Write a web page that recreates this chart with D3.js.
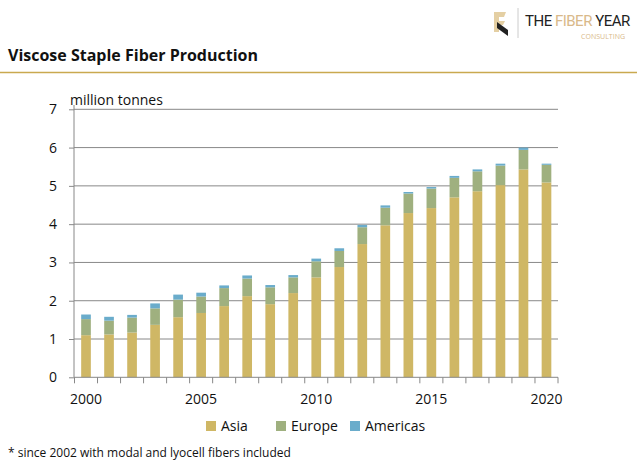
<!DOCTYPE html><html><head><meta charset="utf-8"><script src="https://d3js.org/d3.v7.min.js"></script>
<style>body{margin:0;background:#fff}svg{font-family:"Open Sans",Lato,sans-serif}</style></head><body><script>
const years=d3.range(2000,2021);
const asia=[1.10,1.12,1.17,1.37,1.57,1.68,1.86,2.12,1.91,2.20,2.61,2.88,3.48,3.97,4.29,4.42,4.70,4.86,5.02,5.43,5.09];
const europe=[0.42,0.36,0.39,0.43,0.46,0.43,0.47,0.46,0.44,0.41,0.42,0.42,0.44,0.46,0.51,0.51,0.51,0.52,0.51,0.51,0.46];
const americas=[0.12,0.10,0.07,0.13,0.13,0.10,0.07,0.08,0.06,0.06,0.07,0.07,0.06,0.06,0.04,0.04,0.05,0.05,0.05,0.06,0.03];
const series=[["Asia",asia,"#cfb765"],["Europe",europe,"#9fb07f"],["Americas",americas,"#6aaccb"]];
const yTicks=[0,1,2,3,4,5,6,7];
const svg=d3.select("body").append("svg").attr("width",637).attr("height",475);
svg.append("text").attr("x",8).attr("y",61).attr("font-weight","bold").attr("font-size",16).attr("fill","#111").text("Viscose Staple Fiber Production");
svg.append("line").attr("x1",0).attr("x2",637).attr("y1",72.5).attr("y2",72.5).attr("stroke","#c9a94f").attr("stroke-width",1.5);
svg.append("path").attr("d","M494,12 L506,12 L504,17 L499,17 L499,21 L505,21 L503,25 L499,25 L499,32 L494,32Z").attr("fill","#e4cfa3");
svg.append("path").attr("d","M497,22 L508,30 L508,36 L497,28Z").attr("fill","#222");
svg.append("line").attr("x1",518).attr("x2",518).attr("y1",8).attr("y2",38).attr("stroke","#ccc");
const lg=svg.append("text").attr("x",525).attr("y",26).attr("font-size",15).attr("font-family","Liberation Sans Narrow, Roboto, sans-serif").attr("letter-spacing",-0.5);
lg.append("tspan").attr("fill","#222").text("THE ");lg.append("tspan").attr("fill","#d9b98a").text("FIBER ");lg.append("tspan").attr("fill","#222").text("YEAR");
svg.append("text").attr("x",625).attr("y",39).attr("text-anchor","end").attr("font-size",7).attr("fill","#d9b98a").text("CONSULTING");
const x=d3.scaleBand().domain(years).range([74.5,558]).paddingInner(0.58).paddingOuter(0.29);
const y=d3.scaleLinear().domain([0,7]).range([377.3,109.3]);
svg.append("g").selectAll("line").data(yTicks.slice(1)).join("line").attr("x1",74).attr("x2",558).attr("y1",d=>y(d)).attr("y2",d=>y(d)).attr("stroke","#888").attr("stroke-width",1);
const stack=years.map((yr,i)=>{let b=0;return series.map(s=>{const r={yr,y0:b,y1:b+s[1][i],c:s[2]};b+=s[1][i];return r;});}).flat();
svg.append("g").selectAll("rect").data(stack).join("rect").attr("x",d=>x(d.yr)).attr("width",x.bandwidth()).attr("y",d=>y(d.y1)).attr("height",d=>y(d.y0)-y(d.y1)).attr("fill",d=>d.c);
const ya=svg.append("g").attr("transform","translate(74,0)").call(d3.axisLeft(y).tickValues(yTicks).tickSize(5).tickPadding(12).tickFormat(d3.format("d")));
ya.select(".domain").attr("stroke","#888").attr("d","M0,105V377.3");ya.selectAll("line").attr("stroke","#888");ya.selectAll("text").attr("font-size",14).attr("fill","#111").attr("font-family","Open Sans, sans-serif");
const step=x.step();
const xa=svg.append("g").attr("transform","translate(0,377.3)");
xa.append("line").attr("x1",74).attr("x2",558).attr("stroke","#888");
xa.selectAll(".t").data(d3.range(22)).join("line").attr("x1",d=>74.5+d*step).attr("x2",d=>74.5+d*step).attr("y2",6).attr("stroke","#888");
xa.selectAll("text").data([2000,2005,2010,2015,2020]).join("text").attr("x",d=>x(d)+x.bandwidth()/2).attr("y",27).attr("text-anchor","middle").attr("font-size",14).attr("fill","#111").text(d=>d);
svg.append("text").attr("x",70).attr("y",105).attr("font-size",14).attr("fill","#111").text("million tonnes");
const leg=svg.append("g").selectAll("g").data(series).join("g").attr("transform",(d,i)=>`translate(${[206,276,350][i]},421)`);
leg.append("rect").attr("width",10).attr("height",10).attr("fill",d=>d[2]);
leg.append("text").attr("x",15).attr("y",10).attr("font-size",14).attr("fill","#111").text(d=>d[0]);
svg.append("text").attr("x",8).attr("y",457).attr("font-size",12).attr("fill","#111").text("* since 2002 with modal and lyocell fibers included");
</script></body></html>
